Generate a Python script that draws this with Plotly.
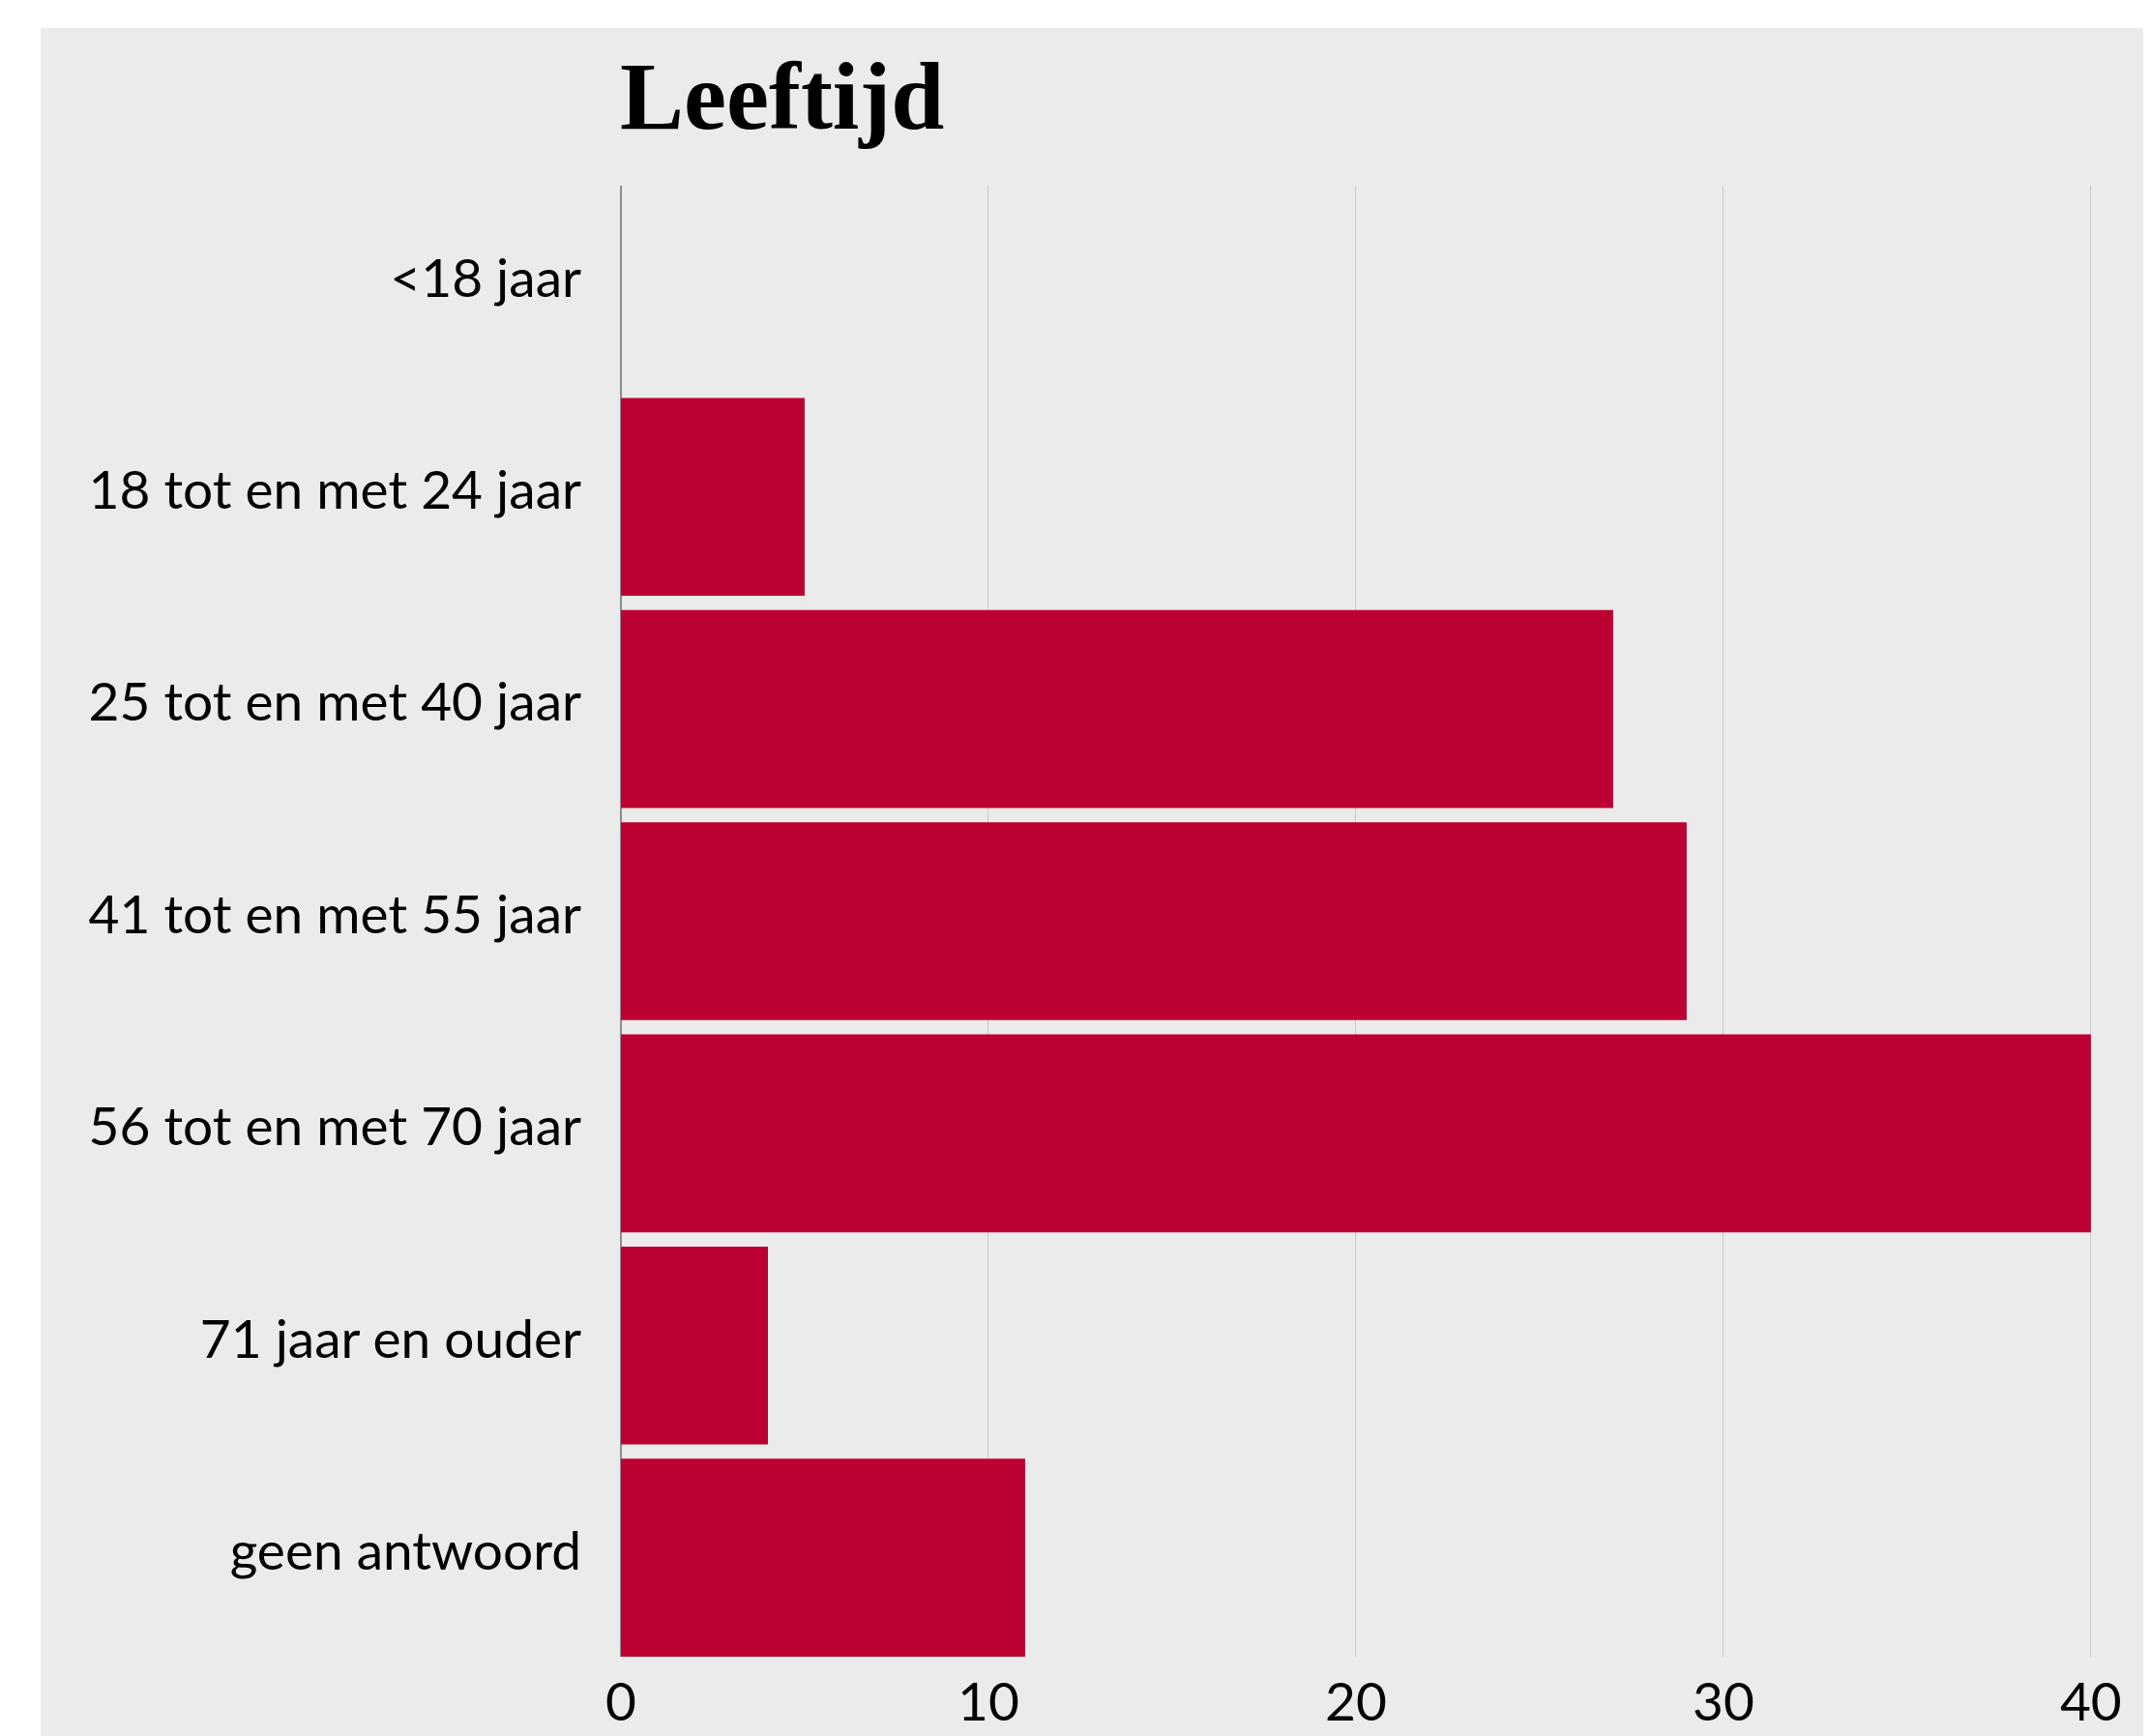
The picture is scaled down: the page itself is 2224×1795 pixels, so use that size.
import plotly.graph_objects as go

categories = [
    "<18 jaar",
    "18 tot en met 24 jaar",
    "25 tot en met 40 jaar",
    "41 tot en met 55 jaar",
    "56 tot en met 70 jaar",
    "71 jaar en ouder",
    "geen antwoord",
]
counts = [0, 5, 27, 29, 40, 4, 11]
x_ticks = [0, 10, 20, 30, 40]

# page body has an 8px margin, so the figure is a bit smaller than the window
W, H = 2216, 1787
L, R, T, B = 634, 61, 184, 82
plot_w = W - L - R
plot_h = H - T - B
bargap = 0.067

fig = go.Figure()
fig.add_trace(
    go.Bar(
        x=counts,
        y=categories,
        orientation="h",
        marker=dict(color="#BC0031", line=dict(width=0)),
        showlegend=False,
    )
)

# grey panel with a white strip on the top and left edges
fig.add_shape(
    type="rect", xref="paper", yref="paper", layer="below",
    x0=(34 - L) / plot_w, x1=(W - L + 20) / plot_w,
    y0=-(B + 20) / plot_h, y1=(H - B - 21) / plot_h,
    fillcolor="#EBEBEB", line=dict(width=0),
)

fig.update_layout(
    width=W,
    height=H,
    margin=dict(l=L, r=R, t=T, b=B, pad=0),
    paper_bgcolor="white",
    plot_bgcolor="#EBEBEB",
    bargap=bargap,
    title=dict(
        text="<b>Leeftijd</b>",
        font=dict(family="Liberation Serif", size=99, color="black"),
        xref="container", yref="container",
        x=633 / W, xanchor="left",
        y=1 - 90 / H, yanchor="middle",
    ),
    font=dict(family="Lato", color="black"),
)
fig.update_xaxes(
    range=[0, 40.03],
    tickvals=x_ticks,
    showgrid=True,
    gridcolor="#C8C8C8",
    gridwidth=1,
    zeroline=True,
    zerolinecolor="#8C8C8C",
    zerolinewidth=1.5,
    showline=False,
    ticks="",
    tickfont=dict(size=55, family="Lato", color="black"),
    ticklabelstandoff=10,
    automargin=False,
)
fig.update_yaxes(
    range=[len(categories) - 0.5 - bargap / 2, -0.5 + bargap / 2],
    showgrid=False,
    zeroline=False,
    showline=False,
    ticks="",
    tickfont=dict(size=55, family="Lato", color="black"),
    ticklabelstandoff=40,
    ticklabelshift=7,
    automargin=False,
)

fig.write_html("out.html")
